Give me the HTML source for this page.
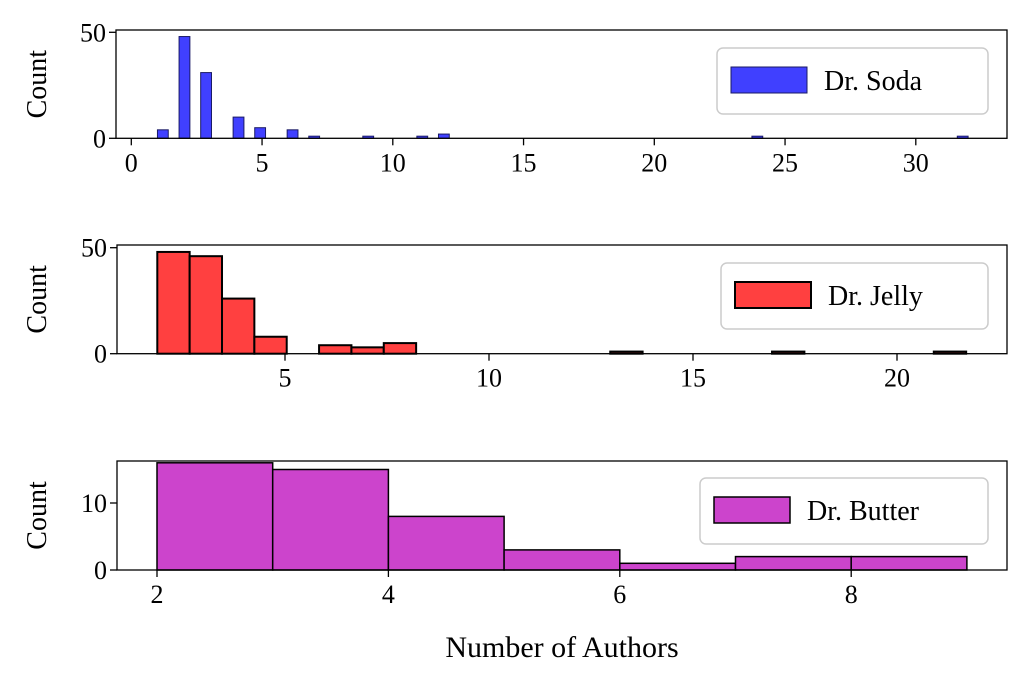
<!DOCTYPE html>
<html><head><meta charset="utf-8"><style>
body{margin:0;background:#fff}
svg{display:block;font-family:"Liberation Serif",serif}
</style></head><body>
<svg id="c" width="1024" height="684" viewBox="0 0 1024 684"></svg>
<script>
// Panel 1: Dr. Soda (bin index, bin width 31/75, starting at 1)
const sodaBins = [0,2,4,7,9,12,14,19,24,26,55,74];
const sodaCounts = [4,48,31,10,5,4,1,1,1,2,1,1];
const sodaXTicks = [0,5,10,15,20,25,30];
const sodaYTicks = [0,50];
// Panel 2: Dr. Jelly (bin index, width 0.793 starting at 1.87)
const jellyBins = [0,1,2,3,5,6,7,14,19,24];
const jellyCounts = [48,46,26,8,4,3,5,1,1,1];
const jellyXTicks = [5,10,15,20];
const jellyYTicks = [0,50];
// Panel 3: Dr. Butter (bin edges of width 1)
const butterStarts = [2,3,4,5,6,7,8];
const butterCounts = [16,15,8,3,1,2,2];
const butterXTicks = [2,4,6,8];
const butterYTicks = [0,10];

const svg=document.getElementById('c');const NS='http://www.w3.org/2000/svg';
function el(t,a,p){const e=document.createElementNS(NS,t);for(const k in a)e.setAttribute(k,a[k]);(p||svg).appendChild(e);return e;}
function txt(s,a,name){const e=el('text',a);e.textContent=s;

return e;}

function panel(o){
  const g=el('g',{});
  
  
  const sx=v=>o.x0px+(v-o.x0)*o.kx, sy=v=>o.y0px-v*o.ky;
  o.bins.forEach((b,i)=>{
    const l=o.start+b*o.w, h=o.counts[i];
    const r=el('rect',{x:sx(l),y:sy(h),width:o.w*o.kx*o.bf,height:h*o.ky,fill:o.color,stroke:o.stroke,'stroke-width':o.sw},g);
    
    
  });
  const ax=el('rect',{x:o.L,y:o.T,width:o.R-o.L,height:o.B-o.T,fill:'none',stroke:'#000','stroke-width':1.3},g);
  
  
  o.xt.forEach(v=>{el('line',{x1:sx(v),x2:sx(v),y1:o.B,y2:o.B+7,stroke:'#000','stroke-width':1.3},g);
    txt(String(v),{x:sx(v),y:o.B+33,'font-size':26,'text-anchor':'middle'},o.name+'-x-tick-label');});
  o.yt.forEach(v=>{el('line',{x1:o.L-7,x2:o.L,y1:sy(v),y2:sy(v),stroke:'#000','stroke-width':1.3},g);
    txt(String(v),{x:o.L-10,y:sy(v)+9,'font-size':26,'text-anchor':'end'},o.name+'-y-tick-label');});
  const cy=(o.T+o.B)/2;
  txt('Count',{x:46,y:cy,'font-size':28,'text-anchor':'middle',transform:'rotate(-90 46 '+cy+')'},o.name+'-y-axis-title');
  const lg=o.lg;
  const lb=el('rect',{x:lg[0],y:lg[1],width:lg[2],height:66,rx:6,fill:'#fff',stroke:'#ccc','stroke-width':1.5},g);
  
  
  el('rect',{x:lg[0]+14,y:lg[1]+19,width:76,height:26,fill:o.color,stroke:o.stroke,'stroke-width':o.sw},g);
  txt(o.label,{x:lg[0]+107,y:lg[1]+42,'font-size':28},o.name+'-legend-label');
}
panel({name:'soda',bins:sodaBins,counts:sodaCounts,start:1,w:31/75,bf:1,x0:0,x0px:131.3,kx:26.15,y0px:138.3,ky:2.12,
  L:116,R:1007,T:30,B:138.3,xt:sodaXTicks,yt:sodaYTicks,color:'#4040ff',stroke:'#1a1a66',sw:1,lg:[717,48,271],label:'Dr. Soda'});
panel({name:'jelly',bins:jellyBins,counts:jellyCounts,start:1.87,w:0.793,bf:1,x0:5,x0px:285,kx:40.8,y0px:353.7,ky:2.12,
  L:117,R:1007,T:245,B:353.7,xt:jellyXTicks,yt:jellyYTicks,color:'#ff4040',stroke:'#000',sw:2,lg:[721,263,267],label:'Dr. Jelly'});
panel({name:'butter',bins:butterStarts.map(v=>v-2),counts:butterCounts,start:2,w:1,bf:1,x0:2,x0px:157,kx:115.7,y0px:570,ky:6.7,
  L:117,R:1007,T:461,B:570,xt:butterXTicks,yt:butterYTicks,color:'#cc44cc',stroke:'#000',sw:1.5,lg:[700,478,288],label:'Dr. Butter'});
txt('Number of Authors',{x:562,y:657,'font-size':30,'text-anchor':'middle'},'x-axis-title');
</script>
</body></html>
